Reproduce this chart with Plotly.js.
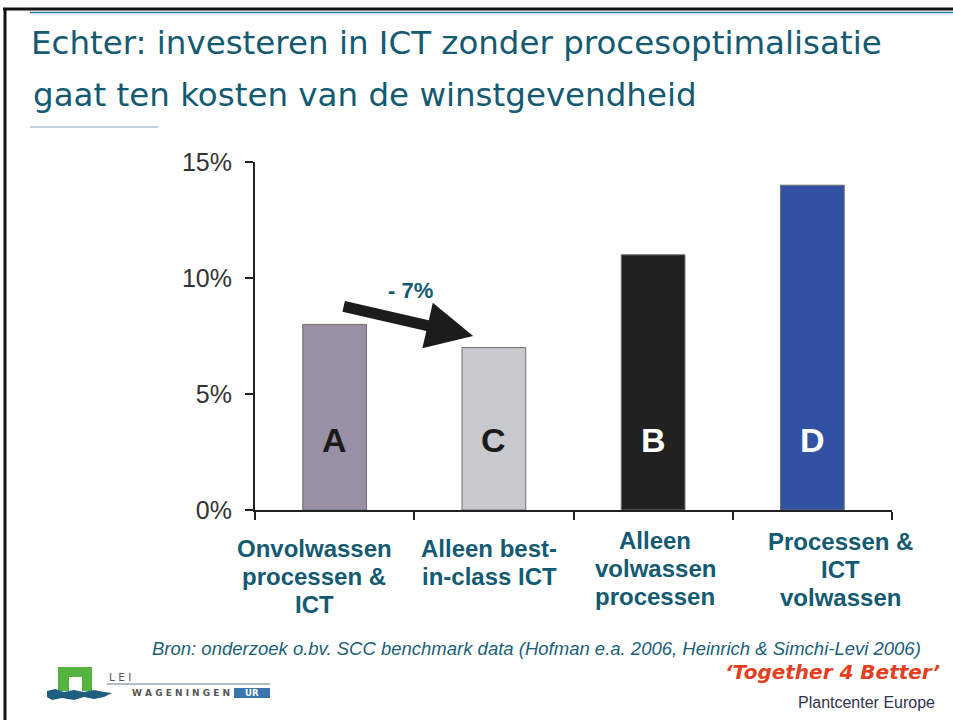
<!DOCTYPE html>
<html>
<head>
<meta charset="utf-8">
<script src="https://cdn.plot.ly/plotly-3.0.1.min.js"></script>
<style>html,body{margin:0;padding:0;background:#fff;}#chart{width:953px;height:720px;}</style>
</head>
<body>
<div id="chart"></div>
<script>
// ---- data ----
const categories = [
  "Onvolwassen<br>processen &<br>ICT",
  "Alleen best-<br>in-class ICT",
  "Alleen<br>volwassen<br>processen",
  "Processen &<br>ICT<br>volwassen"
];
const values = [8, 7, 11, 14];
const barLetters = ["A", "C", "B", "D"];
const yTickVals = [0, 5, 10, 15];
const yTickText = ["0%", "5%", "10%", "15%"];
const changeLabel = "- 7%";
const titleLine1 = "Echter: investeren in ICT zonder procesoptimalisatie";
const titleLine2 = "gaat ten kosten van de winstgevendheid";
const sourceText = "Bron: onderzoek o.bv. SCC benchmark data (Hofman e.a. 2006, Heinrich & Simchi-Levi 2006)";

// ---- styles / placement ----
const barColors = ["#9a90a6", "#c8c9cd", "#212121", "#3152a3"];
const letterColors = ["#1a1a1a", "#1a1a1a", "#ffffff", "#ffffff"];
const teal = "#135a72";
const labelCenterX = [314, 489, 655, 840];   // pixel centres of category labels
const labelFirstY = [548, 548, 540, 541];    // pixel centre of first label line
const labelLineStep = 28.3;

const W = 953, H = 720;
const M = {l: 255, r: 61, t: 162, b: 210};
const PW = W - M.l - M.r, PH = H - M.t - M.b;
const px = x => (x - M.l) / PW;
const py = y => 1 - (y - M.t) / PH;

function pathPx(cmds) {
  return cmds.map(c => c.length === 1 ? c[0] : c[0] + px(c[1]).toFixed(5) + "," + py(c[2]).toFixed(5)).join(" ");
}

const trace = {
  type: "bar",
  x: categories,
  y: values,
  marker: {color: barColors, line: {color: "#6e6e6e", width: 1}},
  hoverinfo: "skip"
};

const annotations = [];
barLetters.forEach((t, i) => {
  annotations.push({
    xref: "x", yref: "y", x: categories[i], y: 3, text: "<b>" + t + "</b>",
    showarrow: false, xanchor: "center", yanchor: "middle",
    font: {family: "Liberation Sans, Arial, sans-serif", size: 34, color: letterColors[i]}
  });
});
// category labels (one annotation per line for exact line spacing)
categories.forEach((c, i) => {
  c.split("<br>").forEach((line, j) => {
    annotations.push({
      xref: "paper", yref: "paper", x: px(labelCenterX[i]), y: py(labelFirstY[i] + j * labelLineStep),
      text: "<b>" + line + "</b>", showarrow: false, xanchor: "center", yanchor: "middle",
      font: {family: "Liberation Sans, Arial, sans-serif", size: 24, color: teal}
    });
  });
});
// arrow from A to C
annotations.push({
  xref: "x", yref: "y", x: 0.87, y: 7.5, ax: -131, ay: -30, text: "",
  showarrow: true, arrowhead: 2, arrowsize: 0.85, arrowwidth: 11, arrowcolor: "#1c1c1c", standoff: 0
});
annotations.push({
  xref: "paper", yref: "paper", x: px(410), y: py(290), text: "<b>" + changeLabel + "</b>",
  showarrow: false, xanchor: "center", yanchor: "middle",
  font: {family: "Liberation Sans, Arial, sans-serif", size: 22, color: teal}
});
annotations.push({
  xref: "paper", yref: "paper", x: px(31), y: py(95), text: titleLine2,
  showarrow: false, xanchor: "left", yanchor: "middle",
  font: {family: "DejaVu Sans, Verdana, sans-serif", size: 32.5, color: teal}
});
annotations.push({
  xref: "paper", yref: "paper", x: px(536), y: py(648), text: sourceText,
  showarrow: false, xanchor: "center", yanchor: "middle",
  font: {family: "Liberation Sans, Arial, sans-serif", size: 18.5, color: "#1b5f7a", style: "italic"}
});
annotations.push({
  xref: "paper", yref: "paper", x: px(832), y: py(672), text: "<b>\u2018Together 4 Better\u2019</b>",
  showarrow: false, xanchor: "center", yanchor: "middle",
  font: {family: "DejaVu Sans, Verdana, sans-serif", size: 20, color: "#e5401d", style: "italic"}
});
annotations.push({
  xref: "paper", yref: "paper", x: px(866), y: py(702), text: "Plantcenter Europe",
  showarrow: false, xanchor: "center", yanchor: "middle",
  font: {family: "Liberation Sans, Arial, sans-serif", size: 16, color: "#33334a"}
});
annotations.push({
  xref: "paper", yref: "paper", x: px(107), y: py(677), text: "L E I",
  showarrow: false, xanchor: "left", yanchor: "middle",
  font: {family: "DejaVu Sans, sans-serif", size: 10.5, color: "#555"}
});
annotations.push({
  xref: "paper", yref: "paper", x: px(130), y: py(693), text: "<b>W A G E N I N G E N</b>",
  showarrow: false, xanchor: "left", yanchor: "middle",
  font: {family: "DejaVu Sans, sans-serif", size: 9, color: "#555"}
});
annotations.push({
  xref: "paper", yref: "paper", x: px(252), y: py(693), text: "<b>UR</b>",
  showarrow: false, xanchor: "center", yanchor: "middle",
  font: {family: "DejaVu Sans, sans-serif", size: 8.5, color: "#ffffff"}
});

const shapes = [
  {type: "line", xref: "paper", yref: "paper", x0: px(3), x1: px(953), y0: py(9), y1: py(9), line: {color: "#111", width: 3}},
  {type: "line", xref: "paper", yref: "paper", x0: px(5), x1: px(5), y0: py(8), y1: py(720), line: {color: "#111", width: 3}},
  {type: "line", xref: "paper", yref: "paper", x0: px(30), x1: px(953), y0: py(12.5), y1: py(12.5), line: {color: "#2f7597", width: 1.5}},
  {type: "line", xref: "paper", yref: "paper", x0: px(30), x1: px(158), y0: py(127), y1: py(127), line: {color: "#7aa6c4", width: 1}},
  {type: "path", xref: "paper", yref: "paper",
   path: pathPx([["M",58,667],["L",92,667],["L",92,691],["L",82,691],["L",82,677],["L",69,677],["L",69,691],["L",58,691],["Z"]]),
   fillcolor: "#55b340", line: {width: 0}},
  {type: "path", xref: "paper", yref: "paper",
   path: pathPx([["M",47,691],["L",55,689],["L",64,692],["L",74,690],["L",84,692],["L",94,690],["L",104,692],["L",112,693],
                 ["L",104,697],["L",94,699],["L",84,697],["L",74,700],["L",62,698],["L",52,700],["L",47,697],["Z"]]),
   fillcolor: "#1f5e7e", line: {width: 0}},
  {type: "line", xref: "paper", yref: "paper", x0: px(107), x1: px(270), y0: py(684), y1: py(684), line: {color: "#9aa6ad", width: 1.5}},
  {type: "rect", xref: "paper", yref: "paper", x0: px(234), x1: px(270), y0: py(688), y1: py(698), fillcolor: "#3a76ad", line: {width: 0}}
];

const layout = {
  width: W, height: H,
  margin: M,
  paper_bgcolor: "#ffffff", plot_bgcolor: "#ffffff",
  showlegend: false,
  bargap: 0.6,
  title: {
    text: titleLine1, xref: "container", yref: "container",
    x: 31 / W, xanchor: "left", y: 1 - 43 / H, yanchor: "middle",
    font: {family: "DejaVu Sans, Verdana, sans-serif", size: 32.5, color: teal}
  },
  xaxis: {
    type: "category",
    showline: true, linecolor: "#222", linewidth: 2,
    ticks: "outside", tickson: "boundaries", ticklen: 8, tickwidth: 2, tickcolor: "#222",
    showticklabels: false,
    showgrid: false, zeroline: false, fixedrange: true
  },
  yaxis: {
    range: [0, 15],
    tickvals: yTickVals, ticktext: yTickText,
    showline: true, linecolor: "#222", linewidth: 2,
    ticks: "outside", ticklen: 8, tickwidth: 2, tickcolor: "#222",
    tickfont: {family: "Liberation Sans, Arial, sans-serif", size: 25, color: "#333"},
    ticklabelstandoff: 8,
    showgrid: false, zeroline: false, fixedrange: true
  },
  annotations: annotations,
  shapes: shapes
};

Plotly.newPlot("chart", [trace], layout, {staticPlot: true, displayModeBar: false});
</script>
</body>
</html>
